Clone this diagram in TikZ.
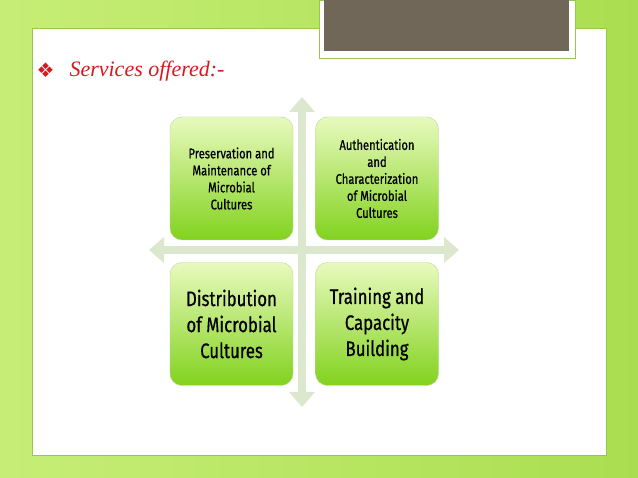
\documentclass[tikz,border=0pt]{standalone}
\usepackage{fontspec}
\setmainfont{Liberation Serif}
\newfontfamily\boxfont[FakeStretch=0.8,FakeBold=0.6]{Fira Sans}
\newfontfamily\dejafont{DejaVu Sans}
\definecolor{bgA}{RGB}{198,238,118}
\definecolor{bgB}{RGB}{170,222,80}
\definecolor{panelEdge}{RGB}{150,200,80}
\definecolor{darkbox}{RGB}{112,103,88}
\definecolor{boxTop}{RGB}{232,250,190}
\definecolor{boxBot}{RGB}{130,210,30}
\definecolor{arrowc}{RGB}{220,232,205}
\definecolor{titlered}{RGB}{215,25,30}
\tikzset{
  qbox/.style={draw=boxBot!70!black!40!white, rounded corners=12pt, minimum width=123pt, minimum height=123pt, top color=boxTop, bottom color=boxBot, align=center, inner sep=2pt, text=black},
  axisarrow/.style={draw=none, fill=arrowc}
}
\begin{document}
\begin{tikzpicture}[x=1pt,y=-1pt]
\useasboundingbox (0,0) rectangle (638,478);
\shade[left color=bgA, right color=bgB] (0,0) rectangle (638,478);
\fill[white, draw=panelEdge, line width=0.8pt] (32,28) rectangle (606,455);
\fill[white, draw=panelEdge, line width=0.8pt] (319,0) rectangle (575,58);
\fill[darkbox] (324,0) rectangle (569,51);
\node[anchor=west, text=titlered, font=\dejafont\fontsize{20}{20}\selectfont] (bul) at (33,70) {❖};
\node[anchor=west, text=titlered, font=\itshape\fontsize{22}{22}\selectfont] (title) at (66,71) {Services offered:-};
% arrows
\fill[axisarrow] (298,110) -- (306,110) -- (306,394) -- (298,394) -- cycle;
\fill[axisarrow] (302,97) -- (315,112) -- (289,112) -- cycle;
\fill[axisarrow] (302,407) -- (315,392) -- (289,392) -- cycle;
\fill[axisarrow] (162,246) -- (446,246) -- (446,254) -- (162,254) -- cycle;
\fill[axisarrow] (149,250) -- (164,237) -- (164,263) -- cycle;
\fill[axisarrow] (459,250) -- (444,237) -- (444,263) -- cycle;
\node[qbox, font=\boxfont\fontsize{14}{17}\selectfont] (pm) at (231.5,178.5) {Preservation and\\Maintenance of\\Microbial\\Cultures};
\node[qbox, font=\boxfont\fontsize{14}{17}\selectfont] (ac) at (377,178.5) {Authentication\\and\\Characterization\\of Microbial\\Cultures};
\node[qbox, font=\boxfont\fontsize{21}{26}\selectfont] (dm) at (231.5,324) {Distribution\\of Microbial\\Cultures};
\node[qbox, font=\boxfont\fontsize{21}{26}\selectfont] (tc) at (377,324) {Training and\\Capacity\\Building};
\end{tikzpicture}
\end{document}
